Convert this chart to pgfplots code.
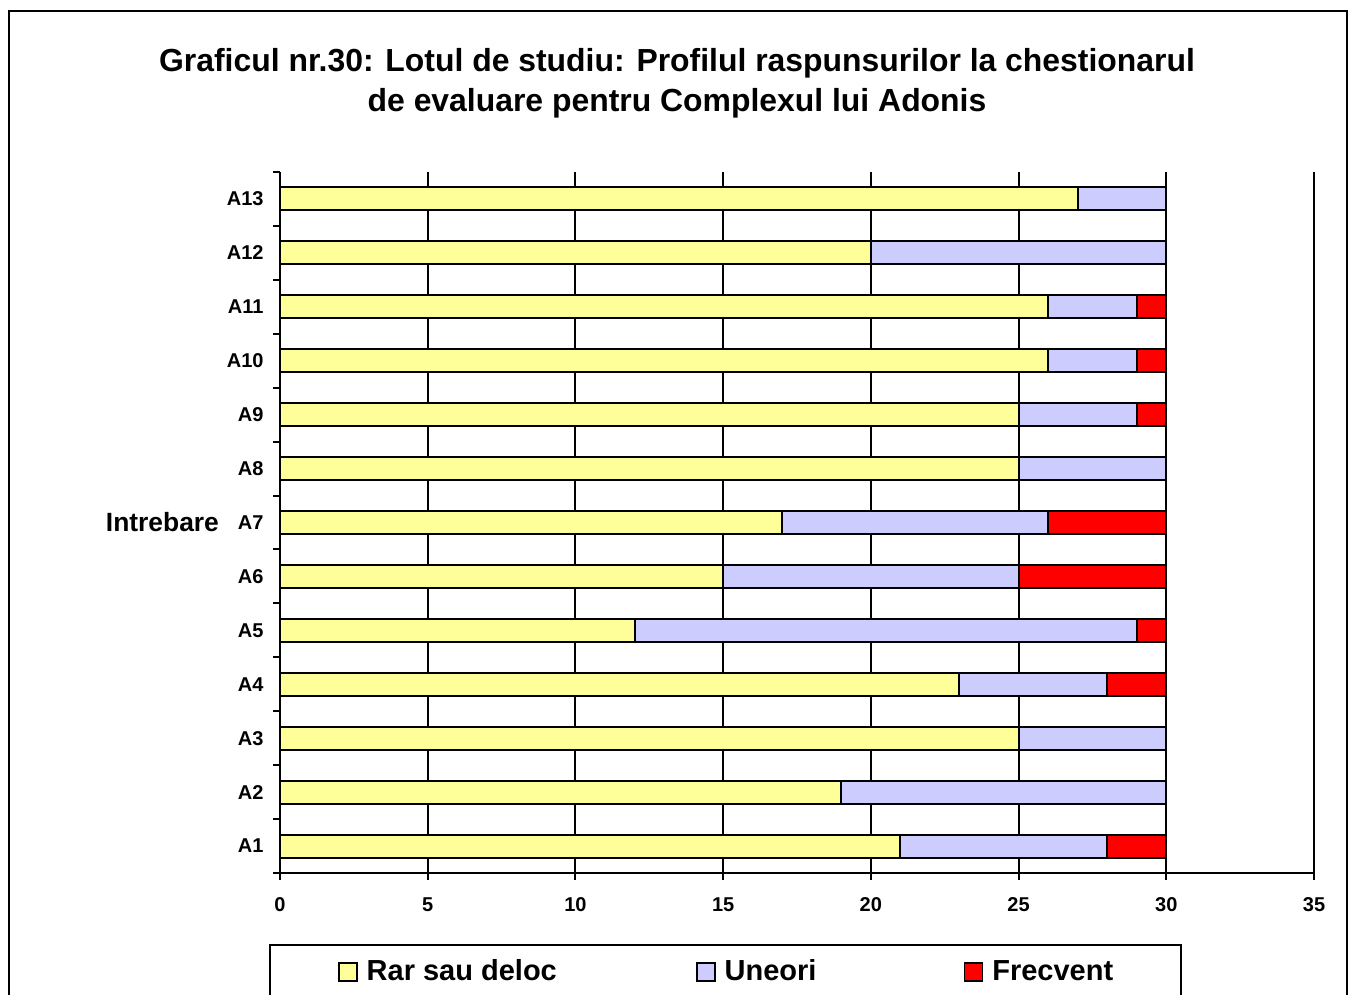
\documentclass[border=0pt]{standalone}
\usepackage{pgfplots}
\pgfplotsset{compat=1.18}
\usepackage{pgfplotstable}
\usepackage{fontspec}
\setmainfont{Liberation Sans}
\definecolor{cyel}{HTML}{FFFF99}
\definecolor{clav}{HTML}{CCCCFF}
\definecolor{cred}{HTML}{FF0000}

\pgfplotstableread{
y rar uneori frec
1 21 7 2
2 19 11 0
3 25 5 0
4 23 5 2
5 12 17 1
6 15 10 5
7 17 9 4
8 25 5 0
9 25 4 1
10 26 3 1
11 26 3 1
12 20 10 0
13 27 3 0
}\datatable

\pgfplotsset{
  sqlegend/.style={legend image code/.code={\draw[##1,line width=0.9pt] (0pt,-4.5pt) rectangle (9pt,4.5pt);}},
}

\begin{document}
\begin{tikzpicture}
\useasboundingbox (0,0) rectangle (677pt,-497.5pt);
\clip (0,0) rectangle (677pt,-497.5pt);
\draw[line width=1.1pt] (4.5pt,-5.5pt) rectangle (673.5pt,-520pt);
\node[font=\bfseries\fontsize{15.95}{20}\selectfont, align=center] at (338.5pt,-41.5pt)
  {Graficul nr.30: Lotul de studiu: Profilul raspunsurilor la chestionarul\\de evaluare pentru Complexul lui Adonis};
\begin{axis}[
  at={(140pt,-436.5pt)}, anchor=south west, scale only axis,
  width=517pt, height=350.5pt,
  xbar stacked, bar width=11.5pt,
  xmin=0, xmax=35, ymin=0.5, ymax=13.5,
  xtick={0,5,...,35},
  ytick={1,...,13},
  yticklabels={A1,A2,A3,A4,A5,A6,A7,A8,A9,A10,A11,A12,A13},
  minor ytick={0.5,1.5,...,13.5},
  xmajorgrids, major grid style={black, line width=1pt},
  axis x line*=bottom, axis y line*=left,
  axis line style={black, line width=1pt, -},
  xtick pos=bottom, ytick pos=left,
  tick align=outside, major tick length=3.5pt, minor tick length=3.5pt,
  tick style={black, line width=1pt},
  every major y tick/.append style={draw=none},
  ticklabel style={font=\bfseries\fontsize{10}{12}\selectfont},
  xticklabel style={yshift=-5.4pt},
  yticklabel style={xshift=-1.2pt},
  /pgf/number format/assume math mode=true,
  ylabel={Intrebare},
  every axis y label/.style={at={(axis description cs:0,0.5)}, anchor=east, xshift=-27pt, font=\bfseries\fontsize{13.2}{15}\selectfont},
  legend columns=3,
  legend style={at={(axis description cs:-0.01064,-0.1013)}, anchor=north west,
    draw=black, line width=0.9pt, fill=white,
    inner xsep=34pt, inner ysep=7.5pt,
    nodes={inner sep=0pt, font=\bfseries\fontsize{14.5}{17}\selectfont},
    /tikz/column 1/.style={column sep=4.5pt},
    /tikz/column 2/.style={column sep=69.5pt},
    /tikz/column 3/.style={column sep=4.5pt},
    /tikz/column 4/.style={column sep=73.5pt},
    /tikz/column 5/.style={column sep=4.5pt},
  },
]
\addplot[fill=cyel, draw=black, line width=1pt, sqlegend] table[x=rar, y=y] {\datatable};
\addplot[fill=clav, draw=black, line width=1pt, sqlegend] table[x=uneori, y=y] {\datatable};
\addplot[fill=cred, draw=black, line width=1pt, sqlegend] table[x=frec, y=y] {\datatable};
\legend{Rar sau deloc, Uneori, Frecvent}
\end{axis}
\end{tikzpicture}
\end{document}
